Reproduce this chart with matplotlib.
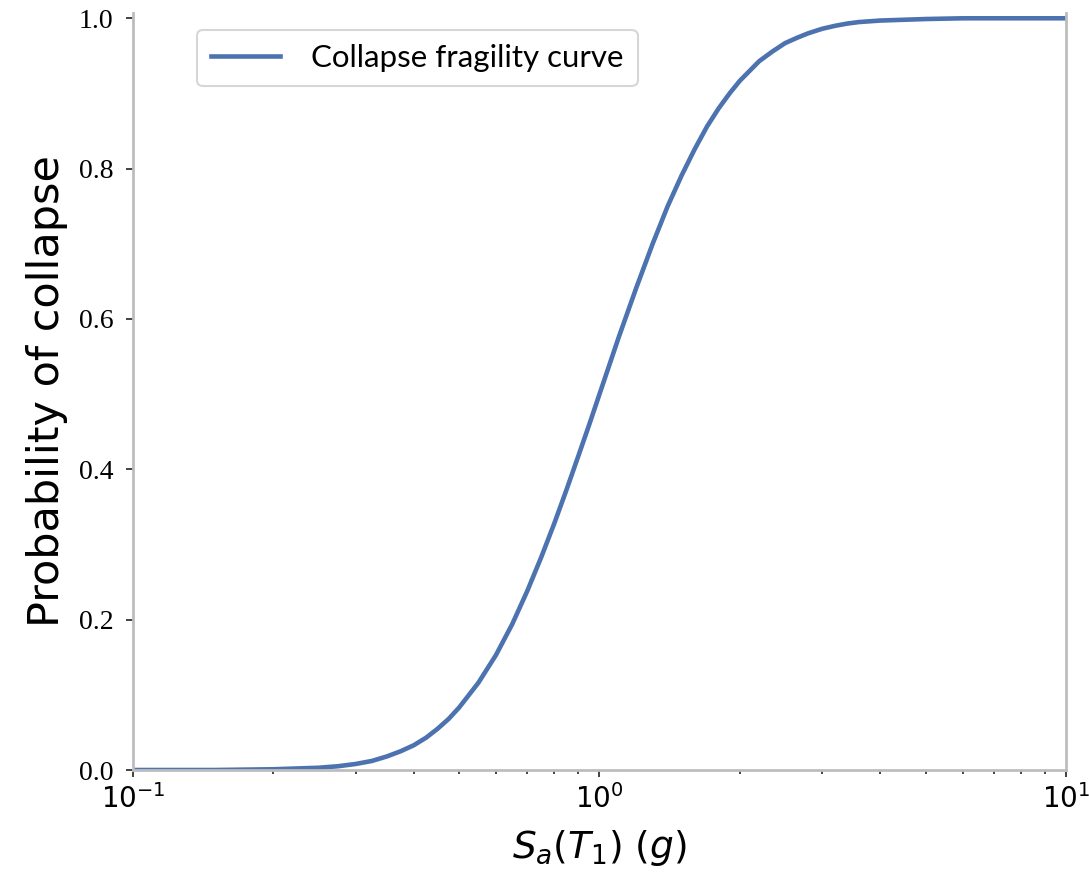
import matplotlib.pyplot as plt
import numpy as np

# Spectral acceleration (g) and probability of collapse
sa_g = [0.10, 0.15, 0.20, 0.25, 0.275, 0.30, 0.325, 0.35, 0.375, 0.40,
        0.425, 0.45, 0.475, 0.50, 0.55, 0.60, 0.65, 0.70, 0.75, 0.80,
        0.85, 0.90, 0.95, 1.00, 1.10, 1.20, 1.30, 1.40, 1.50, 1.60,
        1.70, 1.80, 1.90, 2.00, 2.20, 2.35, 2.50, 2.65, 2.80, 3.00,
        3.20, 3.40, 3.60, 4.00, 5.00, 6.00, 8.00, 10.0]
p_collapse = [0.000, 0.000, 0.001, 0.003, 0.005, 0.008, 0.012, 0.018, 0.025, 0.033,
              0.043, 0.055, 0.068, 0.083, 0.116, 0.153, 0.194, 0.238, 0.283, 0.328,
              0.373, 0.417, 0.459, 0.500, 0.576, 0.642, 0.700, 0.750, 0.791, 0.826,
              0.856, 0.880, 0.900, 0.917, 0.943, 0.956, 0.967, 0.974, 0.980, 0.986,
              0.990, 0.993, 0.995, 0.997, 0.999, 1.000, 1.000, 1.000]
y_ticks = [0.0, 0.2, 0.4, 0.6, 0.8, 1.0]

fig = plt.figure(figsize=(10.89, 8.8), dpi=100)
ax = fig.add_axes([0.1221, 0.125, 0.8568, 0.8602])

ax.plot(sa_g, p_collapse, color="#4C72B0", lw=3.3, label="Collapse fragility curve")

ax.set_xscale("log")
ax.set_xlim(0.1, 10)
ax.set_ylim(0, 1.007)
ax.set_yticks(y_ticks)
ax.set_yticklabels([f"{t:.1f}" for t in y_ticks])
for lbl in ax.get_yticklabels():
    lbl.set_fontfamily("Liberation Serif")
ax.tick_params(axis="y", labelsize=20, length=5, width=1.2, color="#222222", pad=9)
ax.tick_params(axis="x", which="both", labelsize=20, color="#222222", pad=5)
ax.tick_params(axis="x", which="major", length=5, width=1.2)
ax.tick_params(axis="x", which="minor", length=3, width=1.2)

ax.spines["top"].set_visible(False)
for side in ["left", "bottom", "right"]:
    ax.spines[side].set_color("#bdbdbd")
    ax.spines[side].set_linewidth(2)

ax.set_xlabel(r"$S_a(T_1)$ $(g)$", fontsize=27, labelpad=10)
ax.set_ylabel("Probability of collapse", fontsize=31, labelpad=8)

leg = ax.legend(loc="upper left", bbox_to_anchor=(0.052, 0.998),
                prop={"family": "Lato", "size": 22.5}, frameon=True,
                handlelength=2.2, borderpad=0.45, handletextpad=1.0)
leg.get_frame().set_edgecolor("#cccccc")
leg.get_frame().set_linewidth(1.5)

fig.savefig("out.png", dpi=100)
